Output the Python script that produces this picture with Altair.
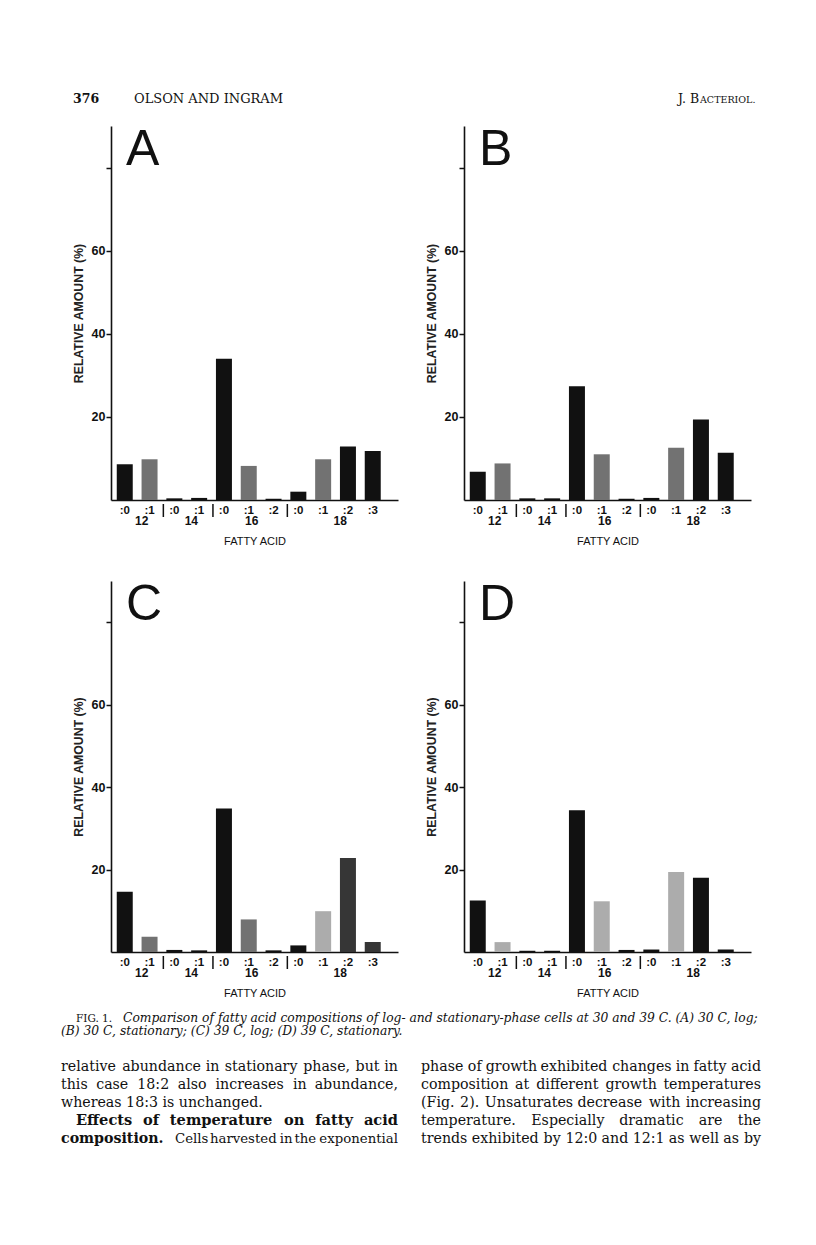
import altair as alt
import pandas as pd

SANS = "Liberation Sans"
SERIF = "DejaVu Serif"
INK = "#111111"

# ---- data -------------------------------------------------------------
acids = ["12:0", "12:1", "14:0", "14:1", "16:0", "16:1", "16:2",
         "18:0", "18:1", "18:2", "18:3"]

values_a = [8.6, 9.8, 0.4, 0.5, 34.0, 8.2, 0.3, 2.0, 9.8, 12.9, 11.8]
values_b = [6.8, 8.8, 0.4, 0.4, 27.4, 11.0, 0.3, 0.5, 12.6, 19.4, 11.4]
values_c = [14.6, 3.7, 0.5, 0.4, 34.8, 7.9, 0.4, 1.6, 9.9, 22.8, 2.4]
values_d = [12.5, 2.4, 0.3, 0.3, 34.4, 12.3, 0.5, 0.6, 19.4, 18.0, 0.6]

shade_a = ["solid", "stipple", "solid", "solid", "solid", "stipple", "solid",
           "solid", "stipple", "solid", "solid"]
shade_b = ["solid", "stipple", "solid", "solid", "solid", "stipple", "solid",
           "solid", "stipple", "solid", "solid"]
shade_c = ["solid", "stipple", "solid", "solid", "solid", "stipple", "solid",
           "solid", "light", "dark", "dark"]
shade_d = ["solid", "light", "solid", "solid", "solid", "light", "solid",
           "solid", "light", "solid", "solid"]

shade_names = ["solid", "dark", "stipple", "light"]
shade_colors = ["#111111", "#363636", "#727272", "#acacac"]

groups = ["12", "14", "16", "18"]
group_anchor = ["12:0", "14:0", "16:1", "18:1"]
separators = ["14:0", "16:0", "18:0"]
y_ticks = [20, 40, 60, 80]

# ---- geometry ----------------------------------------------------------
PW = 287
H_TOP = 374
H_BOT = 371


def x_enc():
    return alt.X(
        "acid:N",
        scale=alt.Scale(domain=acids, paddingInner=0.355, paddingOuter=0.464, align=0.25),
        axis=alt.Axis(
            title="FATTY ACID", labelExpr="slice(datum.value, 2)", labelAngle=0,
            labelOverlap=False, ticks=False, tickSize=0, labelPadding=4,
            labelFont=SANS, labelFontSize=11.5, labelFontWeight="bold", labelColor=INK,
            domainColor=INK, domainWidth=1.6,
            titleFont=SANS, titleFontSize=11, titleFontWeight="normal",
            titleColor=INK, titlePadding=20,
        ),
    )


def y_enc():
    return alt.Y(
        "value:Q",
        scale=alt.Scale(domain=[0, 90], nice=False),
        axis=alt.Axis(
            values=y_ticks, labelExpr="datum.value == 80 ? '' : datum.label",
            title="RELATIVE AMOUNT (%)", grid=False,
            tickSize=5, tickWidth=1.5, tickColor=INK,
            domainColor=INK, domainWidth=1.6,
            labelFont=SANS, labelFontSize=12.5, labelFontWeight="bold",
            labelColor=INK, labelPadding=1,
            titleFont=SANS, titleFontSize=12.3, titleFontWeight="bold",
            titleColor="#222222", titlePadding=6,
        ),
    )


def panel(vals, shades, letter, h):
    df = pd.DataFrame({"acid": acids, "value": vals, "shade": shades})
    bars = alt.Chart(df).mark_bar().encode(
        x=x_enc(), y=y_enc(),
        color=alt.Color("shade:N", scale=alt.Scale(domain=shade_names, range=shade_colors),
                        legend=None),
    )
    gdf = pd.DataFrame({"acid": group_anchor, "label": groups})
    gtext = dict(font=SANS, fontSize=12, fontWeight="bold", color=INK, baseline="middle",
                 align="center")
    glab1 = alt.Chart(gdf).transform_filter(alt.datum.label != "16").mark_text(
        dx=17, **gtext).encode(x=x_enc(), y=alt.value(h + 21), text="label:N")
    glab2 = alt.Chart(gdf).transform_filter(alt.datum.label == "16").mark_text(
        dx=3, **gtext).encode(x=x_enc(), y=alt.value(h + 21), text="label:N")
    sdf = pd.DataFrame({"acid": separators})
    seps = alt.Chart(sdf).mark_rule(xOffset=-11, color=INK, strokeWidth=1.5).encode(
        x=x_enc(), y=alt.value(h + 4), y2=alt.value(h + 17))
    ldf = pd.DataFrame({"t": [letter]})
    lab = alt.Chart(ldf).mark_text(font=SANS, fontSize=50, color=INK, align="left",
                                   baseline="alphabetic").encode(
        x=alt.value(15), y=alt.value(39), text="t:N")
    return alt.layer(bars, seps, glab1, glab2, lab).properties(width=PW, height=h)


def txt(text, x, y, size, font=SERIF, weight="normal", style="normal", align="left"):
    return alt.Chart(pd.DataFrame({"t": [text]})).mark_text(
        align=align, baseline="alphabetic", font=font, fontSize=size,
        fontWeight=weight, fontStyle=style, color=INK,
    ).encode(x=alt.value(x), y=alt.value(y), text="t:N")


# approximate relative glyph advances (per 2048 em) used only to spread the
# words of a justified text line; each line is calibrated to its whole width
GLYPH = {" ": 651, ",": 651, ".": 651, ":": 690, "(": 799, ")": 799, "-": 739}
GLYPH.update({d: 1303 for d in "0123456789"})
GLYPH.update(dict(zip("abcdefghijklmnopqrstuvwxyz",
                      [1255, 1300, 1126, 1300, 1260, 739, 1300, 1298, 660, 660, 1186, 660, 1995,
                       1298, 1253, 1300, 1300, 980, 1067, 821, 1298, 1212, 1675, 1212, 1212, 1075])))
GLYPH.update({c: 1420 for c in "ABCDEFGHIJKLMNOPQRSTUVWXYZ"})


def justify(line, x0, x1, y, size, natural_at_144, weight="normal"):
    words = line.split(" ")
    nat = natural_at_144 * size / 14.4
    ew = [sum(GLYPH.get(c, 1200) for c in w) / 2048 * size for w in words]
    sp = 651 / 2048 * size
    k = nat / (sum(ew) + sp * (len(words) - 1))
    ew = [e * k for e in ew]
    sp *= k
    extra = (x1 - x0 - nat) / (len(words) - 1)
    out = []
    x = x0
    for i, w in enumerate(words):
        if i == len(words) - 1:
            out.append(txt(w, x1, y, size, weight=weight, align="right"))
        else:
            out.append(txt(w, x, y, size, weight=weight))
        x += ew[i] + sp + extra
    return out


anchor = alt.Chart(pd.DataFrame({"a": [0]})).mark_rule(color="white", strokeWidth=1).encode(
    x=alt.value(-102), x2=alt.value(-101), y=alt.value(0), y2=alt.value(1))

header_left = alt.layer(
    anchor,
    txt("376", -38, 94, 12.5, weight="bold"),
    txt("OLSON AND INGRAM", 23, 94, 13),
).properties(width=PW, height=36)

header_right = alt.layer(
    txt("J. B", 214, 94, 12.5),
    txt("ACTERIOL.", 236, 94, 9.5),
).properties(width=PW, height=36)

BODY = 14.2
CAP = 12.3
L0, L_END = -50, 287    # left text column (page x 60 .. 398)
R0, R_END = -43, 297    # right text column (page x 420 .. 760)

left_layers = [
    txt("FIG. 1.", -35, -11, 10.5),
    txt("Comparison of fatty acid compositions of log- and stationary-phase cells at 30 and 39 C. (A) 30 C, log;",
        12, -11, CAP, style="italic"),
    txt("(B) 30 C, stationary; (C) 39 C, log; (D) 39 C, stationary.", L0, 2, CAP, style="italic"),
]
left_layers += justify("relative abundance in stationary phase, but in", L0, L_END, 38, BODY, 335)
left_layers += justify("this case 18:2 also increases in abundance,", L0, L_END, 56, BODY, 316)
left_layers += [txt("whereas 18:3 is unchanged.", L0, 74, BODY)]
left_layers += justify("Effects of temperature on fatty acid", L0 + 15, L_END, 92, 14.6, 287,
                       weight="bold")
left_layers += [txt("composition.", L0, 110, BODY, weight="bold")]
left_layers += justify("Cells harvested in the exponential", 64, L_END, 110, 13.3, 251)
footer_left = alt.layer(*left_layers).properties(width=PW, height=120)

right_layers = []
right_layers += justify("phase of growth exhibited changes in fatty acid", R0, R_END, 38, BODY, 347)
right_layers += justify("composition at different growth temperatures", R0, R_END, 56, BODY, 335)
right_layers += justify("(Fig. 2). Unsaturates decrease with increasing", R0, R_END, 74, BODY, 339)
right_layers += justify("temperature. Especially dramatic are the", R0, R_END, 92, BODY, 301)
right_layers += justify("trends exhibited by 12:0 and 12:1 as well as by", R0, R_END, 110, BODY, 344)
footer_right = alt.layer(*right_layers).properties(width=PW, height=120)

chart = alt.concat(
    header_left, header_right,
    panel(values_a, shade_a, "A", H_TOP), panel(values_b, shade_b, "B", H_TOP),
    panel(values_c, shade_c, "C", H_BOT), panel(values_d, shade_d, "D", H_BOT),
    footer_left, footer_right,
    columns=2, spacing={"row": 81, "column": 66}, bounds="flush",
).properties(
    padding=0, background="white"
).configure_view(stroke="transparent")

chart.save("out.html", embed_options={"renderer": "svg", "actions": False})
